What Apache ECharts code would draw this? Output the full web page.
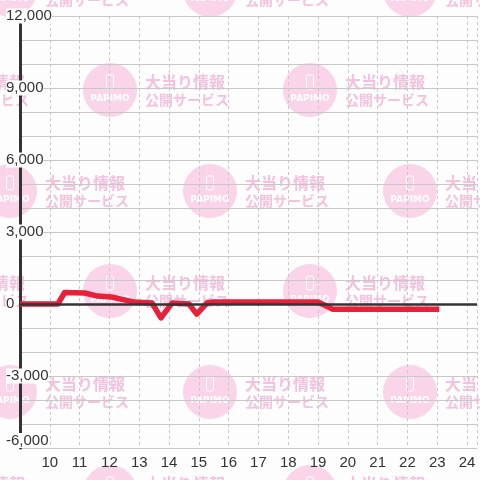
<!DOCTYPE html>
<html>
<head>
<meta charset="utf-8">
<script src="https://cdn.jsdelivr.net/npm/echarts@6/dist/echarts.min.js"></script>
<style>
  html, body { margin: 0; padding: 0; background: #fdfdfd; }
  #chart { width: 480px; height: 480px; }
</style>
</head>
<body>
<div id="chart"></div>
<script>
// 時刻(時) と 差枚
const hours = [9, 10.27, 10.5, 11.17, 11.6, 12.07, 12.5, 12.83, 13.43, 13.73, 14.1, 14.67, 14.93, 15.27, 15.43, 19, 19.5, 23.07]
const coins = [0, 0, 480, 460, 330, 290, 170, 80, 40, -580, 40, 0, -420, 40, 80, 80, -220, -220]
const yTickLabels = [-6000, -3000, 0, 3000, 6000, 9000, 12000]
const xTickLabels = [10, 11, 12, 13, 14, 15, 16, 17, 18, 19, 20, 21, 22, 23, 24]

const textColor = '#333'

// 背景の透かし
function watermark (cx, cy) {
  const pink = '#fad4e9'
  const txt = '#f4c2de'
  return {
    type: 'group',
    x: cx,
    y: cy,
    silent: true,
    z: -5,
    children: [
      { type: 'circle', z: -5, shape: { cx: 0, cy: 0, r: 27 }, style: { fill: pink } },
      { type: 'rect', z: -5, shape: { x: -3.5, y: -15, width: 7, height: 14, r: 1.5 }, style: { fill: null, stroke: '#fff', lineWidth: 1 } },
      { type: 'text', z: -5, x: 0, y: 9, style: { text: 'PAPIMO', fill: '#fff', font: 'bold 9px "DejaVu Sans"', align: 'center', verticalAlign: 'middle' } },
      { type: 'text', z: -5, x: 35, y: -8, style: { text: '大当り情報', fill: txt, font: 'bold 16px "Noto Sans CJK JP"', verticalAlign: 'middle' } },
      { type: 'text', z: -5, x: 35, y: 10, style: { text: '公開サービス', fill: txt, font: 'bold 14px "Noto Sans CJK JP"', verticalAlign: 'middle' } }
    ]
  }
}

const marks = []
for (let j = -1; j <= 2; j++) {
  for (let i = -1; i <= 2; i++) {
    marks.push(watermark(110 + 200 * i, 90 + 201 * j))
    marks.push(watermark(10 + 200 * i, -10 + 201 * j))
  }
}

const chart = echarts.init(document.getElementById('chart'))
chart.setOption({
  backgroundColor: '#fdfdfd',
  animation: false,
  graphic: { elements: marks },
  grid: { left: 20, right: 0, top: 16, bottom: 32, containLabel: false },
  xAxis: {
    type: 'value',
    min: 9,
    max: 9 + 460 / 30,
    interval: 1,
    axisLine: { show: false },
    axisTick: { show: false },
    axisLabel: {
      color: textColor,
      fontSize: 15,
      fontFamily: 'Liberation Sans',
      margin: 7,
      formatter: v => xTickLabels.includes(v) ? String(v) : ''
    },
    splitLine: { show: true, lineStyle: { color: '#c8c8c8', type: [3, 3], width: 1 } }
  },
  yAxis: {
    type: 'value',
    min: -6000,
    max: 12000,
    interval: 1000,
    axisLine: { show: true, lineStyle: { color: textColor, width: 3 } },
    axisTick: { show: false },
    axisLabel: {
      color: textColor,
      fontSize: 15,
      fontFamily: 'Liberation Sans',
      align: 'left',
      margin: 14,
      verticalAlignMinLabel: 'bottom',
      backgroundColor: '#fdfdfd',
      formatter: v => yTickLabels.includes(v) ? v.toLocaleString('en-US') : ''
    },
    splitLine: { show: true, lineStyle: { color: '#c8c8c8', width: 1 } }
  },
  series: [
    {
      type: 'line',
      data: [],
      z: 1,
      silent: true,
      markLine: {
        silent: true,
        symbol: 'none',
        label: { show: false },
        lineStyle: { color: textColor, width: 2.5, type: 'solid' },
        data: [{ yAxis: 0 }]
      }
    },
    {
      type: 'line',
      z: 3,
      data: hours.map((h, i) => [h, coins[i]]),
      showSymbol: false,
      lineStyle: { color: '#e8203a', width: 5.5, cap: 'butt', join: 'round' }
    }
  ]
})
</script>
</body>
</html>
